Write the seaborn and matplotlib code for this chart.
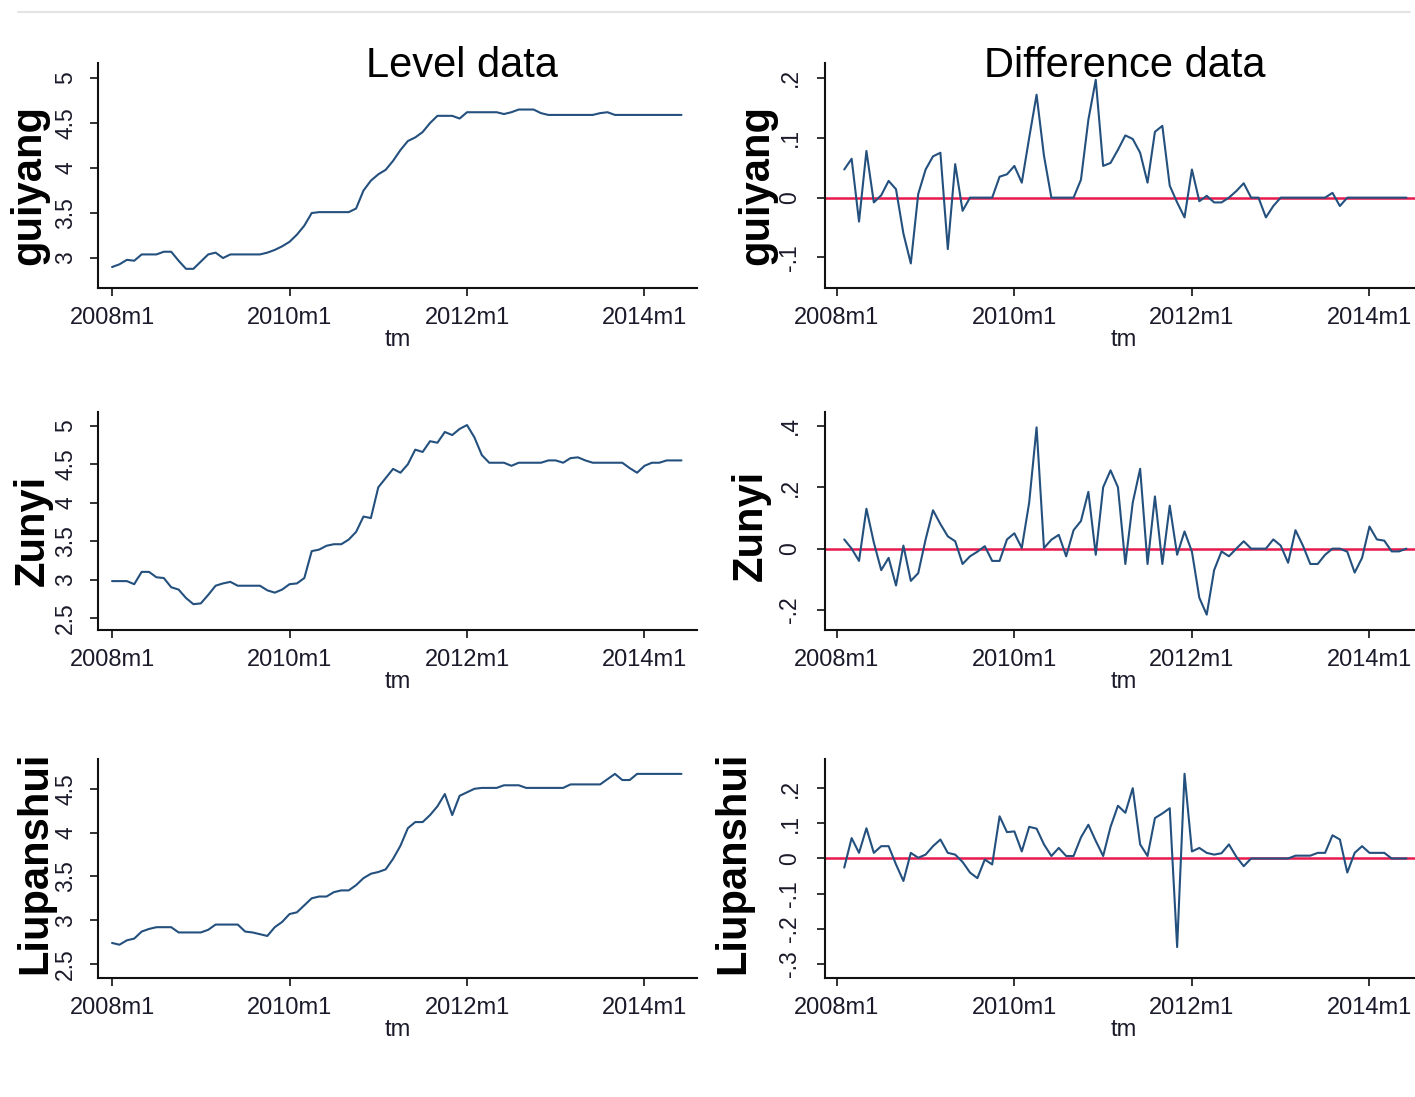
import numpy as np
import pandas as pd
import matplotlib
matplotlib.use("Agg")
import matplotlib.pyplot as plt
from matplotlib.lines import Line2D
import seaborn as sns

# ---------------- data ----------------
cities = ["guiyang", "Zunyi", "Liupanshui"]
tick_pos = [0, 24, 48, 72]
tick_labels = ["2008m1", "2010m1", "2012m1", "2014m1"]
level_months = list(range(0, 78))   # 2008m1 .. 2014m6
diff_months = list(range(1, 78))    # 2008m2 .. 2014m6

guiyang_level = [
    2.90, 2.93, 2.98, 2.97, 3.04, 3.04, 3.04, 3.07, 3.07, 2.97,
    2.88, 2.88, 2.96, 3.04, 3.06, 3.00, 3.04, 3.04, 3.04, 3.04,
    3.04, 3.06, 3.09, 3.13, 3.18, 3.26, 3.36, 3.50, 3.51, 3.51,
    3.51, 3.51, 3.51, 3.55, 3.75, 3.86, 3.93, 3.98, 4.08, 4.20,
    4.30, 4.34, 4.40, 4.50, 4.58, 4.58, 4.58, 4.55, 4.62, 4.62,
    4.62, 4.62, 4.62, 4.60, 4.62, 4.65, 4.65, 4.65, 4.61, 4.59,
    4.59, 4.59, 4.59, 4.59, 4.59, 4.59, 4.61, 4.62, 4.59, 4.59,
    4.59, 4.59, 4.59, 4.59, 4.59, 4.59, 4.59, 4.59]
zunyi_level = [
    2.98, 2.98, 2.98, 2.94, 3.10, 3.10, 3.03, 3.02, 2.90, 2.87,
    2.76, 2.68, 2.69, 2.80, 2.92, 2.95, 2.97, 2.92, 2.92, 2.92,
    2.92, 2.86, 2.83, 2.87, 2.94, 2.95, 3.02, 3.37, 3.39, 3.44,
    3.46, 3.46, 3.52, 3.62, 3.82, 3.80, 4.20, 4.32, 4.44, 4.39,
    4.50, 4.69, 4.66, 4.80, 4.78, 4.92, 4.88, 4.96, 5.01, 4.85,
    4.62, 4.52, 4.52, 4.52, 4.48, 4.52, 4.52, 4.52, 4.52, 4.55,
    4.55, 4.52, 4.58, 4.59, 4.55, 4.52, 4.52, 4.52, 4.52, 4.52,
    4.45, 4.39, 4.48, 4.52, 4.52, 4.55, 4.55, 4.55]
liupanshui_level = [
    2.74, 2.72, 2.77, 2.79, 2.87, 2.90, 2.92, 2.92, 2.92, 2.86,
    2.86, 2.86, 2.86, 2.89, 2.95, 2.95, 2.95, 2.95, 2.87, 2.86,
    2.84, 2.82, 2.92, 2.98, 3.07, 3.09, 3.17, 3.25, 3.27, 3.27,
    3.32, 3.34, 3.34, 3.40, 3.48, 3.53, 3.55, 3.58, 3.70, 3.85,
    4.05, 4.12, 4.12, 4.20, 4.30, 4.44, 4.20, 4.42, 4.46, 4.50,
    4.51, 4.51, 4.51, 4.54, 4.54, 4.54, 4.51, 4.51, 4.51, 4.51,
    4.51, 4.51, 4.55, 4.55, 4.55, 4.55, 4.55, 4.61, 4.67, 4.60,
    4.60, 4.67, 4.67, 4.67, 4.67, 4.67, 4.67, 4.67]

guiyang_diff = [
    0.047, 0.065, -0.040, 0.078, -0.008, 0.004, 0.028, 0.014, -0.060, -0.110,
    0.006, 0.047, 0.069, 0.075, -0.086, 0.056, -0.022, 0.000, 0.000, 0.000,
    0.000, 0.035, 0.039, 0.053, 0.025, 0.100, 0.172, 0.070, 0.000, 0.000,
    0.000, 0.000, 0.030, 0.130, 0.197, 0.053, 0.058, 0.080, 0.104, 0.098,
    0.075, 0.025, 0.110, 0.120, 0.020, -0.008, -0.033, 0.047, -0.006, 0.003,
    -0.008, -0.008, 0.000, 0.011, 0.024, 0.000, 0.000, -0.033, -0.014, 0.000,
    0.000, 0.000, 0.000, 0.000, 0.000, 0.000, 0.008, -0.014, 0.000, 0.000,
    0.000, 0.000, 0.000, 0.000, 0.000, 0.000, 0.000]
zunyi_diff = [
    0.030, 0.000, -0.040, 0.130, 0.020, -0.070, -0.030, -0.120, 0.010, -0.105,
    -0.080, 0.030, 0.125, 0.080, 0.040, 0.024, -0.050, -0.025, -0.010, 0.008,
    -0.040, -0.040, 0.030, 0.050, 0.002, 0.150, 0.395, 0.002, 0.029, 0.045,
    -0.025, 0.060, 0.090, 0.185, -0.020, 0.200, 0.255, 0.200, -0.050, 0.150,
    0.260, -0.050, 0.170, -0.050, 0.140, -0.020, 0.056, -0.010, -0.160, -0.215,
    -0.070, -0.009, -0.025, 0.000, 0.024, 0.000, 0.000, 0.000, 0.030, 0.010,
    -0.046, 0.060, 0.010, -0.050, -0.050, -0.020, 0.000, 0.000, -0.010, -0.078,
    -0.030, 0.072, 0.030, 0.026, -0.009, -0.009, 0.000]
liupanshui_diff = [
    -0.026, 0.058, 0.016, 0.086, 0.016, 0.035, 0.035, -0.017, -0.064, 0.016,
    0.002, 0.011, 0.035, 0.054, 0.016, 0.011, -0.010, -0.040, -0.056, -0.003,
    -0.017, 0.120, 0.075, 0.077, 0.020, 0.090, 0.085, 0.040, 0.007, 0.030,
    0.007, 0.007, 0.060, 0.096, 0.050, 0.007, 0.090, 0.150, 0.130, 0.200,
    0.040, 0.007, 0.115, 0.128, 0.143, -0.252, 0.241, 0.020, 0.030, 0.016,
    0.011, 0.015, 0.040, 0.005, -0.022, 0.000, 0.000, 0.000, 0.000, 0.000,
    0.000, 0.008, 0.008, 0.008, 0.016, 0.016, 0.066, 0.054, -0.040, 0.016,
    0.035, 0.016, 0.016, 0.016, 0.000, 0.000, 0.000]

level_yticks = [[3, 3.5, 4, 4.5, 5], [2.5, 3, 3.5, 4, 4.5, 5], [2.5, 3, 3.5, 4, 4.5]]
level_ylabels = [["3", "3.5", "4", "4.5", "5"],
                 ["2.5", "3", "3.5", "4", "4.5", "5"],
                 ["2.5", "3", "3.5", "4", "4.5"]]
diff_yticks = [[-0.1, 0, 0.1, 0.2], [-0.2, 0, 0.2, 0.4], [-0.3, -0.2, -0.1, 0, 0.1, 0.2]]
diff_ylabels = [["-.1", "0", ".1", ".2"], ["-.2", "0", ".2", ".4"],
                ["-.3", "-.2", "-.1", "0", ".1", ".2"]]

levels = [guiyang_level, zunyi_level, liupanshui_level]
diffs = [guiyang_diff, zunyi_diff, liupanshui_diff]

# ---------------- layout / style ----------------
W, H = 1415, 1097
LINE = "#24507e"
RED = "#e8194c"
TXT = "#1a1a2a"
row_top = [63, 412, 759]
row_bot = [288, 630, 978]
level_ylim = [(2.667, 5.167), (2.344, 5.18), (2.34, 4.84)]
diff_ylim = [(-0.151, 0.225), (-0.265, 0.445), (-0.34, 0.283)]
left_lab = [(40, 185), (44, 530), (46, 863)]
right_lab = [(768, 185), (762, 525), (744, 863)]

sns.set_style("ticks")
plt.rcParams["font.family"] = ["Liberation Sans", "DejaVu Sans"]

fig = plt.figure(figsize=(W / 100, H / 100), dpi=100)


def px_axes(x0, y0, x1, y1):
    return fig.add_axes([x0 / W, 1 - y1 / H, (x1 - x0) / W, (y1 - y0) / H])


def style(ax, yt, yl, ypad):
    for s in ["top", "right"]:
        ax.spines[s].set_visible(False)
    for s in ["left", "bottom"]:
        ax.spines[s].set_linewidth(1.5)
        ax.spines[s].set_color("#111111")
    ax.set_xticks(tick_pos, tick_labels, fontsize=17, color=TXT)
    ax.set_yticks(yt, yl, fontsize=16.5, color=TXT, rotation=90, va="center")
    ax.tick_params(axis="x", length=6, width=1.2, pad=8, color="#111111")
    ax.tick_params(axis="y", length=6, width=1.2, pad=ypad, color="#111111")
    ax.set_ylabel("")
    ax.set_xlabel("tm", fontsize=17, color=TXT, labelpad=0)
    ax.grid(False)


for i, city in enumerate(cities):
    # level panel
    axL = px_axes(98, row_top[i], 697, row_bot[i])
    dfl = pd.DataFrame({"tm": level_months, "value": levels[i]})
    sns.lineplot(data=dfl, x="tm", y="value", ax=axL, color=LINE, lw=1.5)
    axL.set_xlim(-1.9, 79.1)
    axL.set_ylim(*level_ylim[i])
    style(axL, level_yticks[i], level_ylabels[i], 9)

    # difference panel (extends past right edge as in the original)
    axR = px_axes(825, row_top[i], 1422, row_bot[i])
    axR.axhline(0, color=RED, lw=1.8, zorder=1)
    dfd = pd.DataFrame({"tm": diff_months, "value": diffs[i]})
    sns.lineplot(data=dfd, x="tm", y="value", ax=axR, color=LINE, lw=1.5, zorder=2)
    axR.set_xlim(-1.6, 79.1)
    axR.set_ylim(*diff_ylim[i])
    style(axR, diff_yticks[i], diff_ylabels[i], 11)

    # row labels
    for (bx, cy) in (left_lab[i], right_lab[i]):
        fig.text(bx / W, 1 - cy / H, city, rotation=90, rotation_mode="anchor",
                 ha="center", va="baseline", fontsize=30, fontweight="bold",
                 color="black")

fig.text(462 / W, 1 - 77 / H, "Level data", ha="center", va="baseline",
         fontsize=30, color="black")
fig.text(1125 / W, 1 - 77 / H, "Difference data", ha="center", va="baseline",
         fontsize=30, color="black")
fig.add_artist(Line2D([18 / W, 1410 / W], [1 - 12 / H, 1 - 12 / H],
                      color="#e4e4e4", lw=1.5))

fig.savefig("out.png", dpi=100)
